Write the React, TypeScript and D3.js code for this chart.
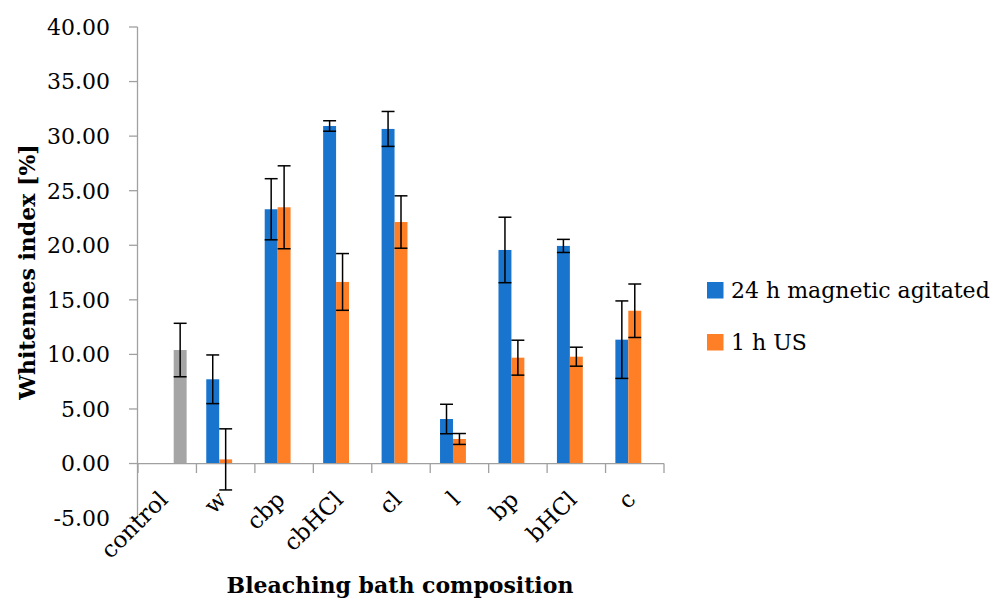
import * as d3 from 'd3';
import { useEffect, useRef } from 'react';

const categories = ['control', 'w', 'cbp', 'cbHCl', 'cl', 'l', 'bp', 'bHCl', 'c'];
const seriesNames = ['24 h magnetic agitated', '1 h US', 'control'];

// values; null = no bar for that category
const magnetic = [null, 7.72, 23.3, 30.93, 30.66, 4.08, 19.57, 19.94, 11.35];
const magneticErr = [null, 2.23, 2.8, 0.48, 1.6, 1.35, 3.0, 0.6, 3.55];
const us = [null, 0.38, 23.48, 16.64, 22.13, 2.25, 9.7, 9.79, 14.0];
const usErr = [null, 2.8, 3.8, 2.6, 2.4, 0.5, 1.6, 0.87, 2.45];
const controlVal = [10.4, null, null, null, null, null, null, null, null];
const controlErr = [2.45, null, null, null, null, null, null, null, null];

const yTicks = [-5, 0, 5, 10, 15, 20, 25, 30, 35, 40];

const colors = ['#1874CD', '#FF7F27', '#A5A5A5'];
const FONT = '"DejaVu Serif", serif';

type Bar = { cat: string; key: string; value: number; err: number; color: string };

const App = () => {
  const ref = useRef<SVGSVGElement>(null);

  useEffect(() => {
    const svg = d3.select(ref.current);
    svg.selectAll('*').remove();

    const x0 = d3.scaleBand<string>().domain(categories).range([138, 664]).padding(0);
    const w = x0.bandwidth();
    const x1 = d3
      .scaleBand<string>()
      .domain(seriesNames)
      .range([w * 0.168, w * 0.832])
      .padding(0);
    const y = d3.scaleLinear().domain([-5, 40]).range([518.1, 27]);

    const allSeries = [
      { vals: magnetic, errs: magneticErr },
      { vals: us, errs: usErr },
      { vals: controlVal, errs: controlErr },
    ];
    const bars: Bar[] = [];
    categories.forEach((cat, i) => {
      allSeries.forEach((s, j) => {
        const v = s.vals[i];
        if (v !== null) {
          bars.push({ cat, key: seriesNames[j], value: v, err: s.errs[i] as number, color: colors[j] });
        }
      });
    });

    const g = svg.append('g');

    // bars
    g.selectAll('rect.bar')
      .data(bars)
      .enter()
      .append('rect')
      .attr('class', 'bar')
      .attr('x', (d) => (x0(d.cat) as number) + (x1(d.key) as number))
      .attr('width', x1.bandwidth())
      .attr('y', (d) => Math.min(y(d.value), y(0)))
      .attr('height', (d) => Math.abs(y(0) - y(d.value)))
      .attr('fill', (d) => d.color);

    // axes
    const axisColor = '#A0A0A0';
    g.append('line')
      .attr('x1', 137.5)
      .attr('x2', 137.5)
      .attr('y1', y(40))
      .attr('y2', y(-5))
      .attr('stroke', axisColor)
      .attr('stroke-width', 1.3);
    g.selectAll('line.ytick')
      .data(yTicks)
      .enter()
      .append('line')
      .attr('x1', 129)
      .attr('x2', 137.5)
      .attr('y1', (d) => y(d))
      .attr('y2', (d) => y(d))
      .attr('stroke', axisColor)
      .attr('stroke-width', 1.3);
    g.selectAll('text.ytick')
      .data(yTicks)
      .enter()
      .append('text')
      .attr('x', 110)
      .attr('y', (d) => y(d))
      .attr('dy', '0.36em')
      .attr('text-anchor', 'end')
      .attr('font-family', FONT)
      .attr('font-size', 22)
      .attr('fill', '#000')
      .text((d) => d.toFixed(2));

    g.append('line')
      .attr('x1', 137.5)
      .attr('x2', 664)
      .attr('y1', y(0))
      .attr('y2', y(0))
      .attr('stroke', axisColor)
      .attr('stroke-width', 1.3);
    const boundaries = categories.map((c) => x0(c) as number).concat([664]);
    g.selectAll('line.xtick')
      .data(boundaries)
      .enter()
      .append('line')
      .attr('x1', (d) => d)
      .attr('x2', (d) => d)
      .attr('y1', y(0))
      .attr('y2', y(0) + 9.5)
      .attr('stroke', axisColor)
      .attr('stroke-width', 1.3);

    // error bars
    const eb = g
      .selectAll('g.err')
      .data(bars)
      .enter()
      .append('g')
      .attr('stroke', '#000')
      .attr('stroke-width', 1.5);
    const cx = (d: Bar) => (x0(d.cat) as number) + (x1(d.key) as number) + x1.bandwidth() / 2;
    const half = x1.bandwidth() / 2;
    eb.append('line')
      .attr('x1', cx)
      .attr('x2', cx)
      .attr('y1', (d) => y(d.value + d.err))
      .attr('y2', (d) => y(d.value - d.err));
    eb.append('line')
      .attr('x1', (d) => cx(d) - half)
      .attr('x2', (d) => cx(d) + half)
      .attr('y1', (d) => y(d.value + d.err))
      .attr('y2', (d) => y(d.value + d.err));
    eb.append('line')
      .attr('x1', (d) => cx(d) - half)
      .attr('x2', (d) => cx(d) + half)
      .attr('y1', (d) => y(d.value - d.err))
      .attr('y2', (d) => y(d.value - d.err));

    // category labels
    g.selectAll('text.cat')
      .data(categories)
      .enter()
      .append('text')
      .attr('text-anchor', 'end')
      .attr('font-family', FONT)
      .attr('font-size', 23)
      .attr('fill', '#000')
      .attr('transform', (d) => {
        const c = (x0(d) as number) + w / 2 + 2;
        return 'translate(' + c + ',501) rotate(-45)';
      })
      .text((d) => d);

    // axis titles
    g.append('text')
      .attr('x', 400)
      .attr('y', 593)
      .attr('text-anchor', 'middle')
      .attr('font-family', FONT)
      .attr('font-size', 22)
      .attr('font-weight', 'bold')
      .attr('fill', '#000')
      .text('Bleaching bath composition');
    g.append('text')
      .attr('transform', 'translate(35,272) rotate(-90)')
      .attr('text-anchor', 'middle')
      .attr('font-family', FONT)
      .attr('font-size', 22)
      .attr('font-weight', 'bold')
      .attr('fill', '#000')
      .text('Whitennes index [%]');

    // legend (only the two treatment series)
    const legend = g
      .selectAll('g.legend')
      .data(seriesNames.slice(0, 2))
      .enter()
      .append('g')
      .attr('transform', (d, i) => 'translate(707,' + (282 + i * 52) + ')');
    legend
      .append('rect')
      .attr('width', 16.5)
      .attr('height', 16.5)
      .attr('fill', (d, i) => colors[i]);
    legend
      .append('text')
      .attr('x', 24)
      .attr('y', 16.3)
      .attr('font-family', FONT)
      .attr('font-size', 22)
      .attr('fill', '#000')
      .text((d) => d);
  }, []);

  return (
    <svg
      ref={ref}
      width={998}
      height={599}
      style={{ position: 'absolute', left: 0, top: 0, background: '#fff' }}
    ></svg>
  );
};

export default App;
